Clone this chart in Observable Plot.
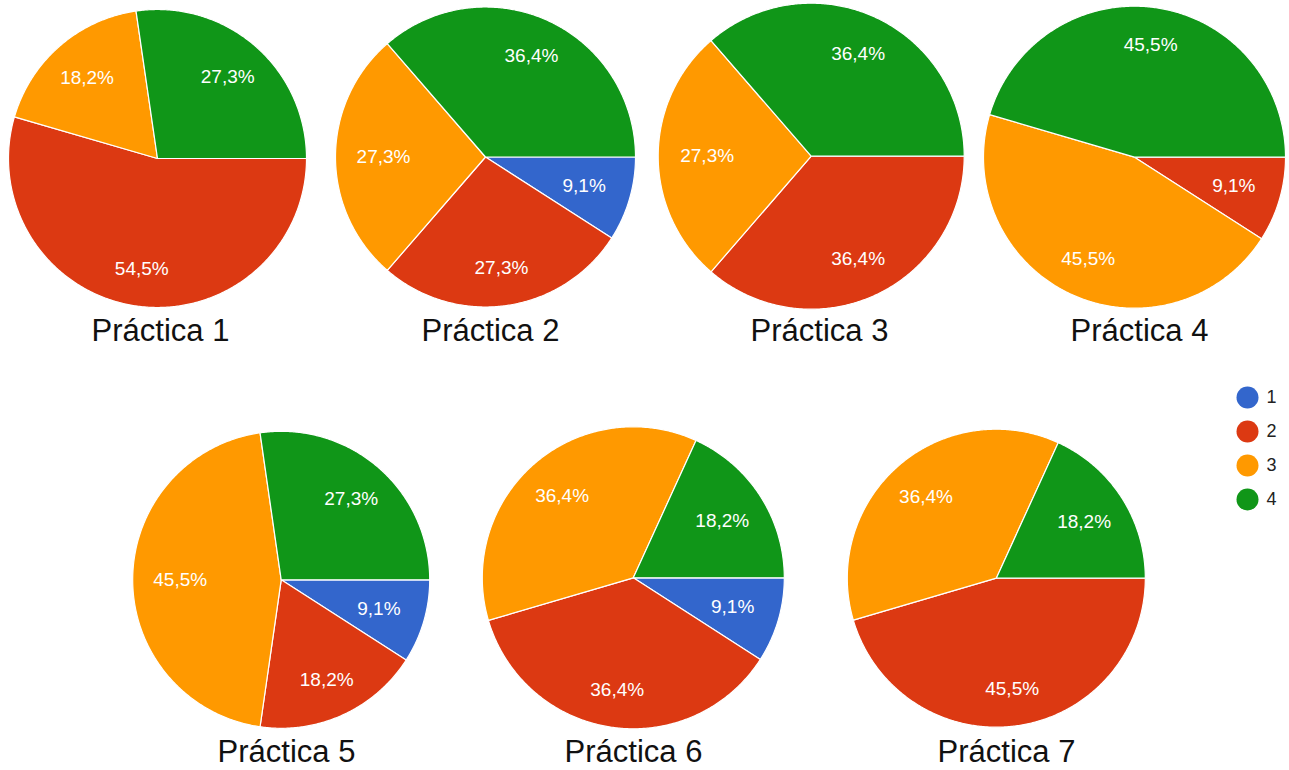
<!DOCTYPE html>
<html>
<head>
<meta charset="utf-8">
<script src="https://cdn.jsdelivr.net/npm/d3@7"></script>
<script src="https://cdn.jsdelivr.net/npm/@observablehq/plot@0.6"></script>
<style>
  html, body { margin: 0; padding: 0; background: #fff; }
  #chart svg { display: block; }
</style>
</head>
<body>
<div id="chart"></div>
<script>
// ---- data ----
const practicas = ["Práctica 1", "Práctica 2", "Práctica 3", "Práctica 4", "Práctica 5", "Práctica 6", "Práctica 7"];
const categorias = ["1", "2", "3", "4"];
const serie1 = [0, 9.1, 0, 0, 9.1, 9.1, 0];
const serie2 = [54.5, 27.3, 36.4, 9.1, 18.2, 36.4, 45.5];
const serie3 = [18.2, 27.3, 27.3, 45.5, 45.5, 36.4, 36.4];
const serie4 = [27.3, 36.4, 36.4, 45.5, 27.3, 18.2, 18.2];
const colores = ["#3366cc", "#dc3912", "#ff9900", "#109618"];

// ---- layout (pixel positions of each pie and its title) ----
const layout = [
  {cx: 157,   cy: 158,   r: 149,   tx: 160,  ty: 340},
  {cx: 485,   cy: 156.5, r: 150,   tx: 490,  ty: 340},
  {cx: 810.7, cy: 155.7, r: 153,   tx: 819,  ty: 340},
  {cx: 1134,  cy: 156.7, r: 151,   tx: 1139, ty: 340},
  {cx: 280.7, cy: 579.3, r: 148.5, tx: 286,  ty: 761},
  {cx: 632.8, cy: 577.3, r: 151,   tx: 633,  ty: 761},
  {cx: 995.8, cy: 577.7, r: 149,   tx: 1006, ty: 761}
];
const legendX = 1247, legendY0 = 397, legendStep = 34;

const series = [serie1, serie2, serie3, serie4];
const slicePts = [];
const labels = [];
practicas.forEach((p, i) => {
  const {cx, cy, r} = layout[i];
  const vals = series.map(s => s[i]);
  const total = d3.sum(vals);
  let a0 = 0;
  vals.forEach((v, c) => {
    if (!(v > 0)) return;
    const a1 = a0 + v / total * 2 * Math.PI;
    const id = i + "-" + c;
    const cat = categorias[c];
    slicePts.push({id, cat, x: cx, y: cy});
    const n = Math.max(2, Math.ceil((a1 - a0) / (Math.PI / 360)) + 1);
    for (let k = 0; k < n; k++) {
      const a = a0 + (a1 - a0) * k / (n - 1);
      slicePts.push({id, cat, x: cx + r * Math.cos(a), y: cy + r * Math.sin(a)});
    }
    slicePts.push({id, cat, x: cx, y: cy});
    const m = (a0 + a1) / 2;
    const s = Math.sin(m);
    const d = r * (0.68 + 0.07 * s * s);
    labels.push({x: cx + d * Math.cos(m), y: cy + d * s, text: v.toFixed(1).replace(".", ",") + "%"});
    a0 = a1;
  });
});

const font = "Arial, 'Liberation Sans', Helvetica, sans-serif";

const chart = Plot.plot({
  width: 1289,
  height: 770,
  margin: 0,
  x: {domain: [0, 1289], range: [0, 1289], axis: null},
  y: {domain: [0, 770], range: [0, 770], axis: null},
  color: {domain: categorias, range: colores},
  style: {fontFamily: font, background: "#fff"},
  marks: [
    Plot.line(slicePts, {x: "x", y: "y", z: "id", fill: "cat", stroke: "white", strokeWidth: 1.2, curve: "linear"}),
    Plot.text(labels, {x: "x", y: "y", text: "text", fill: "white", fontSize: 19, fontFamily: font}),
    Plot.text(practicas, {
      x: (d, i) => layout[i].tx, y: (d, i) => layout[i].ty, text: d => d,
      fontSize: 31, fill: "#111", lineAnchor: "bottom", fontFamily: font
    }),
    Plot.dot(categorias, {x: () => legendX, y: (d, i) => legendY0 + i * legendStep, r: 11, fill: d => d}),
    Plot.text(categorias, {
      x: () => legendX + 19, y: (d, i) => legendY0 + i * legendStep, text: d => d,
      textAnchor: "start", fontSize: 18, fill: "#222", fontFamily: font
    })
  ]
});
document.getElementById("chart").appendChild(chart);
</script>
</body>
</html>
